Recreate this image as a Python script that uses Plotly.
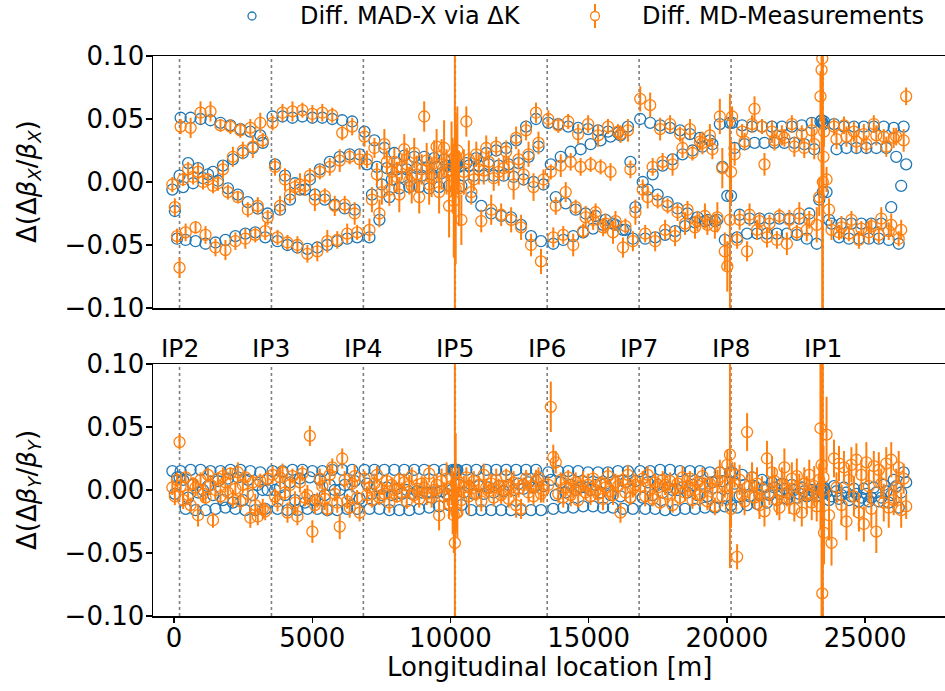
import numpy as np
import plotly.graph_objects as go

# ---------------- data ----------------
ip_names = ["IP2", "IP3", "IP4", "IP5", "IP6", "IP7", "IP8", "IP1"]
ip_s = [200, 3525, 6850, 10175, 13500, 16825, 20150, 23475]
x_ticks = [0, 5000, 10000, 15000, 20000, 25000]
x_ticklabels = ["0", "5000", "10000", "15000", "20000", "25000"]
y_ticks = [-0.10, -0.05, 0.00, 0.05, 0.10]

# BPM longitudinal positions [m]
s_bpm = [
    -60, 30, 110,
    240, 330, 420, 510, 600, 690, 780, 870, 960, 1050, 1140, 1230, 1320, 1410, 1500, 1590, 1680, 1770, 1860, 1950, 2040, 2130, 2220, 2310, 2400, 2490, 2580, 2670, 2760, 2850, 2940, 3030, 3120, 3210, 3300, 3390,
    3565, 3655, 3745, 3835, 3925, 4015, 4105, 4195, 4285, 4375, 4465, 4555, 4645, 4735, 4825, 4915, 5005, 5095, 5185, 5275, 5365, 5455, 5545, 5635, 5725, 5815, 5905, 5995, 6085, 6175, 6265, 6355, 6445, 6535, 6625, 6715,
    6890, 6980, 7070, 7160, 7250, 7340, 7430, 7520, 7610, 7700, 7790, 7880, 7970, 8060, 8150, 8240, 8330, 8420, 8510, 8600, 8690, 8780, 8870, 8960, 9050, 9140, 9230, 9320, 9410, 9500, 9590, 9680, 9770, 9860, 9950, 10040,
    10215, 10305, 10395, 10485, 10575, 10665, 10755, 10845, 10935, 11025, 11115, 11205, 11295, 11385, 11475, 11565, 11655, 11745, 11835, 11925, 12015, 12105, 12195, 12285, 12375, 12465, 12555, 12645, 12735, 12825, 12915, 13005, 13095, 13185, 13275, 13365,
    13540, 13630, 13720, 13810, 13900, 13990, 14080, 14170, 14260, 14350, 14440, 14530, 14620, 14710, 14800, 14890, 14980, 15070, 15160, 15250, 15340, 15430, 15520, 15610, 15700, 15790, 15880, 15970, 16060, 16150, 16240, 16330, 16420, 16510, 16600, 16690,
    16865, 16955, 17045, 17135, 17225, 17315, 17405, 17495, 17585, 17675, 17765, 17855, 17945, 18035, 18125, 18215, 18305, 18395, 18485, 18575, 18665, 18755, 18845, 18935, 19025, 19115, 19205, 19295, 19385, 19475, 19565, 19655, 19745, 19835, 19925, 20015,
    20190, 20280, 20370, 20460, 20550, 20640, 20730, 20820, 20910, 21000, 21090, 21180, 21270, 21360, 21450, 21540, 21630, 21720, 21810, 21900, 21990, 22080, 22170, 22260, 22350, 22440, 22530, 22620, 22710, 22800, 22890, 22980, 23070, 23160, 23250, 23340,
    23515, 23605, 23695, 23785, 23875, 23965, 24055, 24145, 24235, 24325, 24415, 24505, 24595, 24685, 24775, 24865, 24955, 25045, 25135, 25225, 25315, 25405, 25495, 25585, 25675, 25765, 25855, 25945, 26035, 26125, 26215, 26305, 26395, 26485,
]

# values below are in units of 1e-3
dbx_model = [
    -6, -23, -45,
    51, -4, -46, 15, 51, -1, -47, 11, 50, 3, -49, 6, 49, 8, -48, 1, 47, 13, -46, -5, 45, 18, -43, -10, 42, 23, -41, -16, 40, 27, -40, -21, 37, 31, -44, -25,
    52, 14, -47, -22, 52, 5, -50, -14, 51, -1, -52, -6, 52, -6, -53, 2, 51, -10, -52, 10, 51, -14, -50, 16, 50, -18, -47, 20, 49, -21, -45, 22, 48, -22, -44, 22,
    40, 14, -44, -10, 33, 12, -30, -2, 27, 11, -12, 2, 23, 10, -5, 4, 21, 10, -4, 5, 20, 11, -4, 5, 20, 11, -5, 6, 19, 12, -4, 7, 18, 13, -3, 9,
    13, 12, -3, 5, 15, 13, -12, 5, 19, 13, -19, 5, 23, 14, -25, 5, 25, 13, -27, 5, 27, 14, -28, 4, 33, 15, -34, 2, 44, 20, -43, 0, 50, 28, -47, -2,
    47, 14, -49, -12, 46, 20, -46, -17, 44, 24, -43, -22, 43, 26, -40, -25, 42, 30, -37, -27, 41, 33, -34, -30, 40, 36, -33, -34, 39, 37, -38, -38, 44, 16, -45, -20,
    50, 0, -45, -6, 47, 6, -44, -10, 45, 13, -42, -16, 43, 18, -39, -21, 41, 22, -35, -25, 38, 25, -32, -28, 35, 28, -31, -30, 33, 30, -31, -30, 46, 12, -46, -11,
    47, 27, -44, -26, 45, 30, -41, -29, 44, 31, -41, -29, 44, 31, -41, -29, 44, 31, -41, -29, 44, 31, -41, -29, 44, 31, -42, -29, 45, 30, -45, -25, 47, 26, -49, -14,
    48, -8, -30, -33, 46, 26, -44, -33, 44, 27, -45, -33, 44, 27, -45, -33, 44, 27, -45, -33, 44, 27, -45, -33, 44, 27, -46, -20, 43, 20, -49, -3, 44, 14,
]
dbx_meas = [
    -2, -20, -43,
    44, 2, -40, 10, 43, 4, -36, 8, 55, 0, -42, 2, 56, -3, -52, -1, 45, 10, -54, -8, 44, 20, -47, -12, 41, 25, -45, -22, 43, 28, -42, -19, 47, 33, -39, -28,
    47, 12, -44, -19, 55, 2, -48, -10, 56, -4, -50, -2, 57, -3, -57, 5, 54, -14, -55, 8, 55, -11, -47, 12, 53, -19, -46, 17, 39, -18, -41, 20, 44, -25, -40, 18,
    36, 18, -38, -14, 27, 6, -25, -8, 30, 16, -6, 8, 16, 4, -10, 12, 26, 14, 1, -3, 23, 6, -12, 10, 52, 17, -2, 3, 15, 28, -8, 14, 27, 8, -19, 18,
    20, -5, -30, 8, 48, 18, -8, 2, 22, 10, -31, 9, 27, 16, -22, 3, 28, 8, -26, 11, 24, 12, -30, -2, 35, 18, -36, 6, 41, 22, -50, -4, 55, 31, -63, 2,
    50, 8, -44, -19, 45, 13, -42, -8, 48, 16, -50, -20, 38, 12, -39, -28, 46, 14, -30, -24, 37, 12, -36, -33, 44, 8, -40, -31, 40, 38, -52, -35, 41, 10, -47, -24,
    66, -6, -41, -12, 61, 12, -47, -15, 42, 16, -38, -19, 46, 14, -43, -24, 38, 27, -33, -22, 42, 23, -36, -31, 32, 31, -27, -34, 37, 26, -35, -28, 52, 11, -55, -67,
    52, 22, -46, -30, 40, 32, -55, -26, 46, 58, -38, -31, 44, 14, -44, -33, 40, 33, -46, -27, 37, 35, -49, -30, 46, 28, -40, -25, 38, 27, -38, -30, 41, 30, -34, -12,
    40, 2, -22, -38, 44, 34, -40, -36, 45, 36, -41, -30, 40, 32, -46, -37, 38, 30, -40, -35, 46, 37, -42, -29, 36, 28, -39, -34, 35, 36, -45, -38, 33, 68,
]
dbx_err = [
    6, 7, 6,
    6, 5, 7, 6, 8, 6, 5, 7, 9, 6, 7, 5, 8, 6, 7, 6, 5, 7, 8, 6, 6, 8, 7, 5, 6, 7, 8, 6, 7, 9, 6, 7, 8, 6, 7, 6,
    6, 7, 6, 8, 7, 9, 6, 7, 8, 6, 7, 9, 6, 8, 7, 6, 7, 9, 8, 6, 7, 6, 9, 7, 6, 8, 7, 9, 6, 7, 8, 6, 7, 9, 6, 8,
    8, 7, 9, 10, 8, 9, 11, 10, 12, 9, 13, 10, 11, 12, 14, 10, 12, 13, 11, 14, 12, 15, 13, 12, 12, 14, 16, 15, 18, 14, 17, 20, 22, 18, 25, 30,
    25, 30, 20, 18, 12, 15, 10, 9, 10, 12, 9, 11, 10, 9, 12, 10, 8, 11, 9, 10, 9, 8, 10, 12, 9, 8, 10, 9, 8, 10, 9, 11, 8, 9, 10, 8,
    7, 6, 8, 7, 6, 9, 7, 8, 6, 7, 9, 6, 8, 7, 6, 9, 7, 6, 8, 7, 9, 6, 7, 8, 6, 7, 9, 8, 6, 7, 8, 6, 9, 7, 8, 10,
    10, 8, 7, 9, 10, 7, 8, 6, 9, 7, 8, 6, 7, 9, 8, 7, 6, 8, 9, 7, 8, 6, 9, 8, 7, 9, 10, 8, 9, 8, 10, 12, 14, 16, 15, 20,
    8, 9, 7, 8, 6, 7, 8, 9, 7, 10, 8, 7, 6, 9, 8, 7, 9, 8, 7, 6, 8, 7, 9, 8, 7, 8, 6, 9, 7, 8, 9, 7, 10, 12, 14, 15,
    12, 10, 9, 8, 7, 8, 6, 9, 7, 8, 6, 7, 8, 9, 7, 6, 8, 7, 9, 6, 7, 8, 7, 9, 6, 8, 7, 9, 8, 7, 6, 8, 9, 7,
]
dby_model = [
    15, -3, 10,
    15, 8, -15, -6, 16, 4, -16, -2, 16, 0, -16, 3, 15, -4, -15, 7, 15, -8, -14, 9, 16, -10, -15, 10, 16, -8, -16, 8, 15, -4, -16, 4, 14, 0, -15, 0,
    15, 0, -15, 2, 15, -4, -16, 6, 16, -8, -16, 9, 16, -10, -15, 10, 15, -8, -15, 8, 15, -4, -16, 4, 16, 0, -16, 0, 16, 4, -15, -4, 16, 7, -15, -7,
    16, 5, -15, -3, 16, 3, -15, -4, 16, 2, -16, -4, 16, 1, -16, -3, 16, 0, -16, -3, 16, -1, -15, -2, 16, -2, -14, -2, 16, -2, -13, -1, 16, -3, -12, 0,
    16, 4, -12, -2, 16, 3, -16, -3, 16, 3, -16, -3, 16, 2, -16, -2, 16, 3, -16, -1, 16, 4, -16, 0, 16, 5, -16, 1, 16, 6, -16, 2, 16, 8, -16, 3,
    14, 8, -15, -4, 15, 6, -14, -2, 15, 4, -14, 0, 15, 2, -13, 2, 14, 0, -13, 4, 14, -2, -14, 5, 14, -4, -14, 6, 15, -5, -15, 6, 15, -6, -15, 7,
    15, -6, -15, 6, 15, -4, -15, 4, 16, -2, -16, 2, 16, 0, -16, 0, 15, 2, -15, -2, 15, 4, -15, -4, 15, 5, -14, -5, 14, 6, -14, -6, 14, 7, -13, -7,
    14, 5, -14, -5, 12, 4, -12, -5, 10, 3, -11, -4, 8, 2, -10, -4, 6, 2, -8, -3, 5, 1, -7, -3, 4, 0, -6, -3, 2, -1, -5, -3, 0, -2, -5, -4,
    2, -2, -8, -5, 3, -1, -7, -4, 2, -2, -8, -5, 1, -3, -9, -6, 1, -3, -9, -6, 2, -2, -9, -6, 4, -1, -10, -4, 8, 3, -14, -2, 14, 6,
]
dby_meas = [
    2, -5, 8,
    3, -8, 10, -4, -12, 5, 2, -20, 8, -3, -6, 12, 4, -24, 0, 9, -5, 11, 6, -2, 13, -7, 1, 14, -9, 4, 10, -3, -22, 6, -12, -21, 7, -15, -17, 9,
    12, -5, -9, 10, 14, -2, -18, 4, 11, -10, -21, 6, 13, -6, -4, 43, -33, -12, -8, 9, 3, -7, -15, 12, 18, -3, -10, -29, 25, 8, -9, -14, 5, 11, -6, -18,
    9, -4, 2, -8, 5, 12, -6, 1, -3, 7, -10, 4, 0, -5, 8, -2, 6, -9, 3, 11, -4, 1, -7, 5, 2, -3, 13, -6, 0, 4, -20, 7, -5, 9, -11, 3,
    -18, 6, -8, 2, 10, -5, 1, 7, -3, 4, -9, 12, 2, -1, 5, -6, 8, 3, -4, 0, 11, -7, 2, 6, -12, 1, -15, 4, 9, -2, 3, -5, 7, 10, -3, 0,
    4, 66, 26, 22, -3, 8, -6, 2, 10, -4, 1, 6, -8, 3, 7, -2, 4, -5, 9, 0, -3, 5, -7, 2, 11, -1, -4, 6, 3, -18, 8, -2, 12, -6, 1, 4,
    3, 9, -5, 12, 0, -7, 6, 2, -10, 8, 4, -3, 7, -12, 1, 5, -6, 10, -2, 3, 9, -8, 0, 6, -4, 11, 2, -9, 5, 1, -13, 7, 14, -5, 3, 20,
    2, 12, -53, 8, -4, -9, 46, 3, 10, -6, 5, -12, 1, -17, 25, -3, 14, 7, -8, -14, 4, 18, -2, -7, 9, -15, 11, 1, -18, 5, -4, 12, -10, 3, -13, 8,
    -34, 44, -20, -42, 25, 2, 21, -12, 18, -25, 8, 20, -5, 24, -18, 12, -27, 22, 3, -15, 19, -33, 16, 5, -10, 21, -14, 24, -8, 2, 18, -16, 9, -13,
]
dby_err = [
    6, 7, 6,
    6, 7, 5, 8, 6, 5, 7, 9, 6, 7, 5, 6, 8, 6, 7, 5, 6, 7, 8, 6, 5, 7, 6, 8, 7, 6, 5, 7, 8, 6, 9, 7, 6, 8, 7, 6,
    7, 6, 8, 9, 7, 6, 8, 7, 6, 9, 7, 8, 6, 7, 8, 8, 9, 7, 6, 8, 7, 9, 6, 8, 7, 6, 8, 10, 8, 7, 6, 8, 7, 9, 6, 7,
    6, 7, 5, 6, 8, 7, 6, 5, 7, 6, 8, 6, 7, 5, 6, 8, 7, 6, 9, 7, 6, 8, 7, 6, 8, 9, 7, 8, 10, 9, 12, 10, 11, 13, 12, 15,
    15, 12, 10, 9, 8, 15, 7, 8, 6, 7, 8, 9, 7, 6, 8, 7, 9, 6, 7, 8, 6, 7, 8, 9, 10, 7, 8, 6, 7, 8, 6, 7, 9, 8, 7, 10,
    7, 20, 10, 9, 7, 6, 8, 7, 6, 9, 7, 8, 6, 7, 8, 6, 9, 7, 6, 8, 7, 6, 9, 8, 7, 6, 8, 7, 9, 8, 6, 7, 8, 6, 7, 9,
    7, 6, 8, 7, 9, 6, 7, 8, 6, 7, 8, 9, 7, 6, 8, 7, 6, 9, 7, 8, 6, 7, 8, 6, 9, 7, 8, 7, 6, 8, 7, 9, 10, 8, 9, 12,
    8, 10, 10, 12, 9, 11, 15, 10, 12, 9, 13, 11, 10, 12, 14, 9, 13, 11, 12, 10, 14, 15, 11, 12, 13, 10, 14, 12, 11, 13, 15, 12, 14, 16, 12, 13,
    25, 30, 20, 18, 15, 12, 14, 16, 13, 15, 12, 14, 16, 13, 15, 12, 14, 16, 13, 15, 12, 17, 14, 12, 15, 13, 16, 14, 12, 15, 13, 14, 12, 10,
]

# extra BPMs close to the interaction points (units of 1e-3 for values)
s_ir = [200, 10080, 10120, 10160, 10190, 10250, 20110, 20150, 23385, 23425, 23450, 23470, 23495]
dbx_model_ir = [5, 13, 12, 13, 12, 14, 47, -11, 48, 49, 47, -8, 46]
dbx_meas_ir = [-68, 5, -15, 20, -5, 25, -30, 8, 68, 89, 98, 0, 20]
dbx_err_ir = [8, 30, 45, 200, 60, 35, 100, 25, 20, 100, 250, 250, 30]
dby_model_ir = [10, 16, 15, 16, 14, 16, 14, -12, 1, 2, 0, -3, 1]
dby_meas_ir = [38, -10, -20, -42, 5, -18, 28, -15, 49, 20, -82, 0, 10]
dby_err_ir = [6, 25, 30, 200, 40, 20, 90, 15, 80, 250, 60, 250, 25]

for name, arr in [("dbx_model", dbx_model), ("dbx_meas", dbx_meas), ("dbx_err", dbx_err),
                  ("dby_model", dby_model), ("dby_meas", dby_meas), ("dby_err", dby_err)]:
    if len(arr) != len(s_bpm):
        raise ValueError(f"{name}: {len(arr)} vs {len(s_bpm)}")

# ---------------- figure ----------------
BLUE = "#1f77b4"
ORANGE = "#ff7f0e"
W, H = 945, 691
ML, MR, MT, MB = 153, 0, 56, 75
PW, PH = W - ML - MR, H - MT - MB
XR = [-760, 27890]

s_all = np.array(s_bpm + s_ir, dtype=float)
panels = [
    ("x", "y", np.array(dbx_model + dbx_model_ir) * 1e-3, np.array(dbx_meas + dbx_meas_ir) * 1e-3,
     np.array(dbx_err + dbx_err_ir) * 1e-3),
    ("x2", "y2", np.array(dby_model + dby_model_ir) * 1e-3, np.array(dby_meas + dby_meas_ir) * 1e-3,
     np.array(dby_err + dby_err_ir) * 1e-3),
]

fig = go.Figure()
for xa, ya, model, meas, err in panels:
    fig.add_trace(go.Scatter(
        x=s_all, y=model, mode="markers", xaxis=xa, yaxis=ya, showlegend=False,
        marker=dict(symbol="circle-open", size=11, color=BLUE, line=dict(width=1.3, color=BLUE)),
    ))
    fig.add_trace(go.Scatter(
        x=s_all, y=meas, mode="markers", xaxis=xa, yaxis=ya, showlegend=False,
        marker=dict(symbol="circle-open", size=11, color=ORANGE, line=dict(width=1.3, color=ORANGE)),
        error_y=dict(type="data", array=err, visible=True, color=ORANGE, thickness=2, width=0),
    ))

shapes = []
for s in ip_s:
    for xr, yr in [("x", "y domain"), ("x2", "y2 domain")]:
        shapes.append(dict(type="line", xref=xr, yref=yr, x0=s, x1=s, y0=0, y1=1,
                           line=dict(color="#7f7f7f", width=1.6, dash="dot"), layer="below"))

def px2paper_x(px):
    return (px - ML) / PW

def py2paper_y(py):
    return (H - MB - py) / PH

# manual legend
leg_y = 16
shapes.append(dict(type="circle", xref="paper", yref="paper", xsizemode="pixel", ysizemode="pixel",
                   xanchor=px2paper_x(252), yanchor=py2paper_y(leg_y), x0=-4, x1=4, y0=-4, y1=4,
                   line=dict(color=BLUE, width=1.3)))
shapes.append(dict(type="line", xref="paper", yref="paper", x0=px2paper_x(595), x1=px2paper_x(595),
                   y0=py2paper_y(leg_y - 12), y1=py2paper_y(leg_y + 12), line=dict(color=ORANGE, width=2)))
shapes.append(dict(type="circle", xref="paper", yref="paper", xsizemode="pixel", ysizemode="pixel",
                   xanchor=px2paper_x(595), yanchor=py2paper_y(leg_y), x0=-4.5, x1=4.5, y0=-4.5, y1=4.5,
                   fillcolor="white", line=dict(color=ORANGE, width=1.3)))

annotations = [
    dict(text="Diff. MAD-X via ΔK", xref="paper", yref="paper", x=px2paper_x(298), y=py2paper_y(leg_y),
         xanchor="left", yanchor="middle", showarrow=False, font=dict(size=24)),
    dict(text="Diff. MD-Measurements", xref="paper", yref="paper", x=px2paper_x(640), y=py2paper_y(leg_y),
         xanchor="left", yanchor="middle", showarrow=False, font=dict(size=24)),
    dict(text="Longitudinal location [m]", xref="paper", yref="paper", x=0.5, y=py2paper_y(667),
         xanchor="center", yanchor="middle", showarrow=False, font=dict(size=26)),
    dict(text="Δ(Δ<i>β</i><sub><i>X</i></sub>/<i>β</i><sub><i>X</i></sub>)", xref="paper", yref="y domain",
         x=px2paper_x(28), y=0.5, xanchor="center", yanchor="middle", textangle=-90, showarrow=False,
         font=dict(size=26)),
    dict(text="Δ(Δ<i>β</i><sub><i>Y</i></sub>/<i>β</i><sub><i>Y</i></sub>)", xref="paper", yref="y2 domain",
         x=px2paper_x(28), y=0.5, xanchor="center", yanchor="middle", textangle=-90, showarrow=False,
         font=dict(size=26)),
]
for name, s in zip(ip_names, ip_s):
    annotations.append(dict(text=name, xref="x2", yref="y2 domain", x=s, y=1.0, xanchor="center",
                            yanchor="bottom", showarrow=False, font=dict(size=25), yshift=-1))

axis_common = dict(showgrid=False, zeroline=False, showline=True, linecolor="black", linewidth=1.5,
                   automargin=False)
ytick_common = dict(range=[-0.1, 0.1], tickvals=y_ticks, tickformat=".2f", ticks="outside", ticklen=6,
                    tickwidth=1.3, tickcolor="black", tickfont=dict(size=26), ticklabelstandoff=-4)

fig.update_layout(
    width=W, height=H,
    margin=dict(l=ML, r=MR, t=MT, b=MB, autoexpand=False),
    paper_bgcolor="white", plot_bgcolor="white",
    font=dict(family="DejaVu Sans", color="black", size=26),
    showlegend=False,
    shapes=shapes, annotations=annotations,
    xaxis=dict(domain=[0, 1], anchor="y", range=XR, matches="x2", showticklabels=False, ticks="",
               mirror=True, **axis_common),
    xaxis2=dict(domain=[0, 1], anchor="y2", range=XR, tickvals=x_ticks, ticktext=x_ticklabels,
                ticks="outside", ticklen=5, tickwidth=1.3, tickcolor="black", tickfont=dict(size=26),
                ticklabelstandoff=-7, mirror=True, **axis_common),
    yaxis=dict(domain=[0.55, 1], anchor="x", **ytick_common, **axis_common),
    yaxis2=dict(domain=[0, 0.45], anchor="x2", **ytick_common, **axis_common),
)

fig.write_html("out.html", config={"displayModeBar": False, "staticPlot": True},
               post_script="document.body.style.margin='0px';document.body.style.overflow='hidden';")
